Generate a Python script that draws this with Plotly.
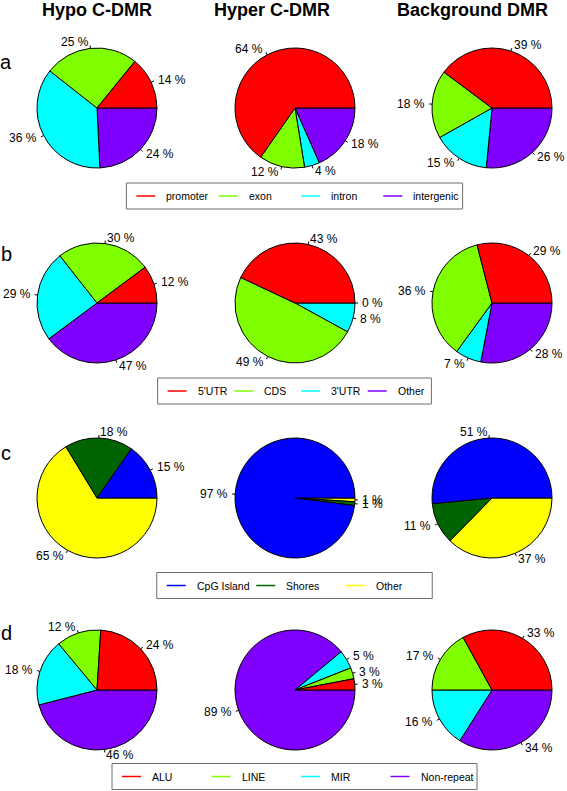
import math
import plotly.graph_objects as go

# ---------------- data ----------------
col_titles = ["Hypo C-DMR", "Hyper C-DMR", "Background DMR"]
row_letters = ["a", "b", "c", "d"]

region_names = ["promoter", "exon", "intron", "intergenic"]
region_hypo = [14, 25, 36, 24]
region_hyper = [64, 12, 4, 18]
region_bg = [39, 18, 15, 26]

gene_names = ["5'UTR", "CDS", "3'UTR", "Other"]
gene_hypo = [12, 30, 29, 47]
gene_hyper = [43, 49, 8, 0]
gene_bg = [29, 36, 7, 28]

cpg_names = ["CpG Island", "Shores", "Other"]
cpg_hypo = [15, 18, 65]
cpg_hyper = [97, 1, 1]
cpg_bg = [51, 11, 37]

rep_names = ["ALU", "LINE", "MIR", "Non-repeat"]
rep_hypo = [24, 12, 18, 46]
rep_hyper = [3, 3, 5, 89]
rep_bg = [33, 17, 16, 34]

rainbow4 = ["#FF0000", "#80FF00", "#00FFFF", "#8000FF"]
cpg_colors = ["#0000FF", "#006400", "#FFFF00"]

rows = [
    (region_names, [region_hypo, region_hyper, region_bg], rainbow4),
    (gene_names, [gene_hypo, gene_hyper, gene_bg], rainbow4),
    (cpg_names, [cpg_hypo, cpg_hyper, cpg_bg], cpg_colors),
    (rep_names, [rep_hypo, rep_hyper, rep_bg], rainbow4),
]

# ---------------- layout geometry (pixels) ----------------
W, H = 567, 791
col_cx = [97, 295, 492]
row_cy = [108, 303, 498, 690]
R = 60
title_x = [97, 272, 472]
title_y = 10
letter_x = 6
letter_y = [62, 254, 453, 633]
legend_cx = 294.5
legend_cy = [196, 391, 585.5, 776.5]
legend_spacing = [82.3, 66.7, 89.5, 89.5]
legend_h = 26
legend_pad_l = 10
legend_line_len = 19
legend_text_gap = 29

FONT = "Liberation Sans, Arial, Helvetica, sans-serif"


def px(x):
    return x / W


def py(y):
    return 1 - y / H


fig = go.Figure()
annotations = []
shapes = []

for ri, (names, series, colors) in enumerate(rows):
    cy = row_cy[ri]
    for ci, vals in enumerate(series):
        cx = col_cx[ci]
        # R-style pie: start at 3 o'clock, counter-clockwise.
        # Plotly: reversed order drawn clockwise from 3 o'clock gives the same geometry.
        fig.add_trace(go.Pie(
            labels=names[::-1],
            values=vals[::-1],
            sort=False,
            direction="clockwise",
            rotation=90,
            marker=dict(colors=colors[::-1], line=dict(color="black", width=1)),
            textinfo="none",
            hoverinfo="label+value",
            showlegend=False,
            domain=dict(x=[px(cx - R), px(cx + R)], y=[py(cy + R), py(cy - R)]),
        ))
        total = float(sum(vals))
        cum = 0.0
        for v in vals:
            mid = 2 * math.pi * (cum + v / 2.0) / total
            cum += v
            c, s = math.cos(mid), math.sin(mid)
            shapes.append(dict(
                type="line", xref="paper", yref="paper",
                x0=px(cx + R * c), y0=py(cy - R * s),
                x1=px(cx + 1.05 * R * c), y1=py(cy - 1.05 * R * s),
                line=dict(color="black", width=1),
            ))
            annotations.append(dict(
                x=px(cx + 1.1 * R * c), y=py(cy - 1.1 * R * s),
                xref="paper", yref="paper", showarrow=False,
                text=f"{v} %",
                xanchor="left" if c >= 0 else "right", yanchor="middle",
                font=dict(size=12, color="black", family=FONT),
                borderpad=0,
            ))

    # R-style horizontal legend box for this row
    n = len(names)
    sp = legend_spacing[ri]
    bw = n * sp + 7
    left = legend_cx - bw / 2
    ly = legend_cy[ri]
    shapes.append(dict(
        type="rect", xref="paper", yref="paper",
        x0=px(left), x1=px(left + bw),
        y0=py(ly + legend_h / 2), y1=py(ly - legend_h / 2),
        line=dict(color="#6e6e6e", width=1), fillcolor="rgba(0,0,0,0)",
    ))
    for k, (name, col) in enumerate(zip(names, colors)):
        x0 = left + legend_pad_l + k * sp
        shapes.append(dict(
            type="line", xref="paper", yref="paper",
            x0=px(x0), x1=px(x0 + legend_line_len), y0=py(ly), y1=py(ly),
            line=dict(color=col, width=1.5),
        ))
        annotations.append(dict(
            x=px(x0 + legend_text_gap), y=py(ly), xref="paper", yref="paper",
            showarrow=False, text=name, xanchor="left", yanchor="middle",
            font=dict(size=10.5, color="black", family=FONT), borderpad=0,
        ))

for ci, t in enumerate(col_titles):
    annotations.append(dict(
        x=px(title_x[ci]), y=py(title_y), xref="paper", yref="paper",
        showarrow=False, text=f"<b>{t}</b>", xanchor="center", yanchor="middle",
        font=dict(size=18, color="black", family=FONT),
    ))

for ri, l in enumerate(row_letters):
    annotations.append(dict(
        x=px(letter_x), y=py(letter_y[ri]), xref="paper", yref="paper",
        showarrow=False, text=l, xanchor="center", yanchor="middle",
        font=dict(size=20, color="black", family=FONT),
    ))

fig.update_layout(
    width=W, height=H,
    margin=dict(l=0, r=0, t=0, b=0),
    paper_bgcolor="white", plot_bgcolor="white",
    annotations=annotations, shapes=shapes,
    showlegend=False,
)

fig.write_html(
    "out.html",
    config={"displayModeBar": False},
    post_script="document.body.style.margin='0px';document.body.style.overflow='hidden';",
)
